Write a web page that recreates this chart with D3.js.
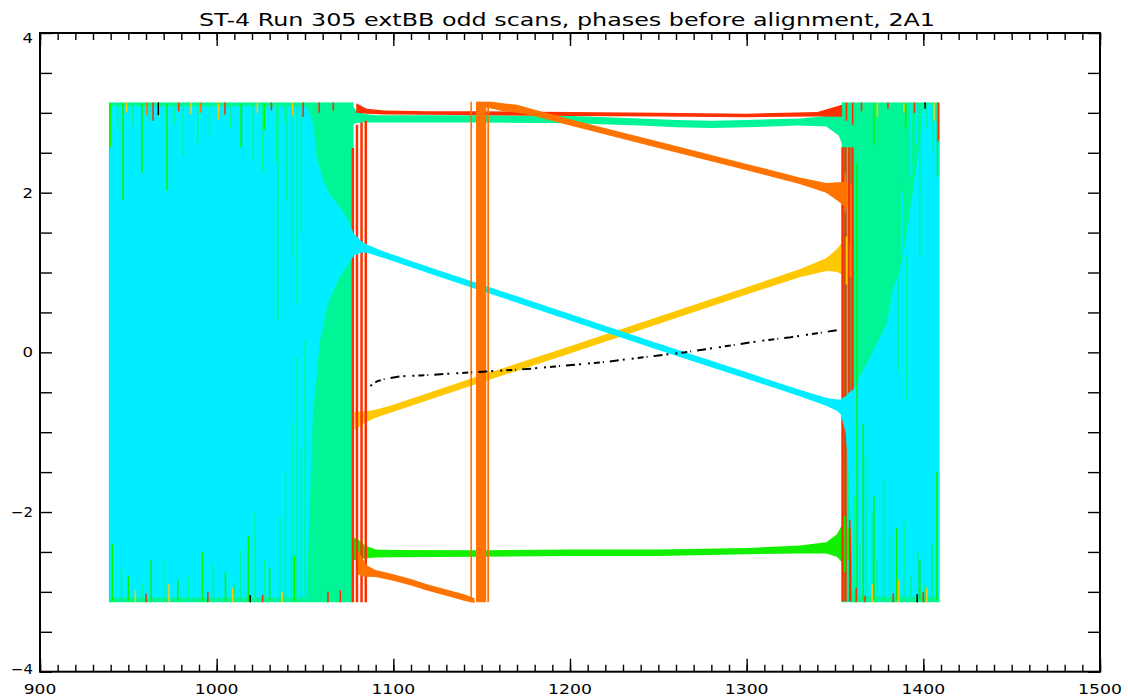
<!DOCTYPE html>
<html>
<head>
<meta charset="utf-8">
<script src="https://cdn.jsdelivr.net/npm/d3@7"></script>
<style>
  body { margin: 0; background: #fff; }
  #wrapper svg { display: block; }
  text { font-family: "DejaVu Sans", sans-serif; fill: #000; }
</style>
</head>
<body>
<div id="wrapper"></div>
<script>
const title = "ST-4 Run 305 extBB odd scans, phases before alignment, 2A1"
const xMajorTicks = [900, 1000, 1100, 1200, 1300, 1400, 1500]
const yMajorTicks = [-4, -2, 0, 2, 4]

// noisy (wrapped) blocks: spring-green fills them, cyan sits on top
const springBlockX0 = [939, 1353.8]
const springBlockX1 = [1077.5, 1409.2]
const blockTop = 3.13
const blockBottom = -3.13

const cyanLeftX = [939.5, 1051, 1052.5, 1054.5, 1056.8, 1058.5, 1060.2, 1062.5, 1064.2, 1069.8, 1075.5, 1078.3]
const cyanLeftHi = [3.08, 3.08, 3.0, 2.87, 2.41, 2.3, 2.16, 2.05, 1.97, 1.82, 1.6, 1.45]
const cyanLeftLo = [-3.07, -3.07, -2.0, -0.75, -0.25, 0.15, 0.32, 0.57, 0.68, 0.95, 1.14, 1.23]

const cyanRightX = [1353.5, 1356, 1358, 1360.2, 1369.8, 1379.4, 1382.8, 1388.5, 1394.2, 1398.1, 1399.8, 1409]
const cyanRightHi = [-0.58, -0.55, -0.5, -0.47, -0.06, 0.37, 0.78, 1.19, 2.03, 2.66, 3.1, 3.1]
const cyanRightLo = [-0.8, -1.0, -1.6, -3.06, -3.06, -3.06, -3.06, -3.06, -3.06, -3.06, -3.06, -3.06]

// clean part of each series (upper / lower edge of its noisy trace)
const cyanMidX = [1077, 1079, 1082, 1086, 1095, 1120, 1150, 1200, 1250, 1300, 1330, 1345, 1351, 1354]
const cyanMidHi = [1.49, 1.46, 1.39, 1.34, 1.26, 1.07, 0.85, 0.48, 0.11, -0.25, -0.47, -0.57, -0.59, -0.59]
const cyanMidLo = [1.23, 1.22, 1.25, 1.24, 1.18, 0.99, 0.77, 0.40, 0.03, -0.33, -0.55, -0.67, -0.73, -0.79]

const yellowMidX = [1078, 1080, 1084, 1090, 1100, 1150, 1200, 1250, 1300, 1330, 1345, 1351, 1355]
const yellowMidHi = [-0.75, -0.74, -0.74, -0.72, -0.655, -0.285, 0.075, 0.445, 0.815, 1.04, 1.18, 1.29, 1.40]
const yellowMidLo = [-0.97, -0.94, -0.88, -0.82, -0.745, -0.375, -0.015, 0.355, 0.725, 0.94, 1.02, 1.01, 0.96]

const greenMidX = [1077, 1080, 1084, 1090, 1100, 1150, 1200, 1250, 1300, 1330, 1345, 1351, 1356]
const greenMidHi = [-2.32, -2.34, -2.42, -2.47, -2.475, -2.48, -2.47, -2.47, -2.45, -2.42, -2.38, -2.28, -2.08]
const greenMidLo = [-2.60, -2.60, -2.58, -2.57, -2.565, -2.56, -2.55, -2.55, -2.53, -2.52, -2.52, -2.56, -2.68]

const springMidX = [1076, 1079, 1083, 1090, 1100, 1150, 1200, 1240, 1260, 1280, 1300, 1330, 1345, 1352, 1356]
const springMidHi = [3.12, 3.03, 2.99, 2.97, 2.97, 2.97, 2.96, 2.93, 2.91, 2.9, 2.91, 2.93, 2.96, 3.02, 3.1]
const springMidLo = [2.86, 2.87, 2.88, 2.88, 2.88, 2.88, 2.87, 2.84, 2.82, 2.81, 2.82, 2.84, 2.83, 2.72, 2.5]

const redMidX = [1079, 1085, 1095, 1120, 1150, 1200, 1250, 1300, 1340, 1354]
const redMidHi = [3.12, 3.05, 3.03, 3.02, 3.02, 3.01, 3.0, 2.99, 3.01, 3.1]
const redMidLo = [3.0, 2.99, 2.98, 2.975, 2.97, 2.96, 2.955, 2.945, 2.955, 2.95]

const orangeLowX = [1080, 1082, 1085, 1090, 1100, 1110, 1120, 1130, 1140, 1146]
const orangeLowHi = [-2.48, -2.56, -2.67, -2.725, -2.78, -2.84, -2.91, -2.97, -3.03, -3.08]
const orangeLowLo = [-2.78, -2.8, -2.81, -2.815, -2.86, -2.92, -2.99, -3.05, -3.11, -3.14]

const orangeHighX = [1152, 1156, 1162, 1170, 1178, 1200, 1250, 1300, 1330, 1345, 1352, 1357]
const orangeHighHi = [3.14, 3.14, 3.12, 3.1, 3.05, 2.92, 2.64, 2.36, 2.19, 2.12, 2.13, 2.14]
const orangeHighLo = [3.07, 3.05, 3.02, 3.0, 2.97, 2.84, 2.56, 2.28, 2.11, 2.0, 1.89, 1.80]

// orange wraps from -pi to +pi around 1150
const orangeBarX0 = [1143.6, 1146.8, 1153.2]
const orangeBarX1 = [1144.5, 1152.6, 1154.2]

// red wrap lines at both edges of the clean part
const redWrapX = [1077.1, 1079.4, 1082.0, 1084.4, 1354.3, 1355.9, 1358.1, 1359.9, 1358.6]
const redWrapHi = [2.56, 2.85, 2.88, 2.9, 2.57, 2.57, 2.57, 2.57, -2.1]
const redWrapLo = [-3.13, -3.13, -3.13, -3.13, -3.12, -3.12, -0.64, -0.64, -3.12]

// black trace: sparse points
const blackX = [1087, 1091, 1096, 1104, 1115, 1130, 1145, 1160, 1175, 1190, 1205, 1220, 1235, 1250, 1265, 1280, 1295, 1310, 1325, 1340, 1352]
const blackY = [-0.42, -0.36, -0.33, -0.30, -0.29, -0.27, -0.25, -0.23, -0.21, -0.18, -0.15, -0.12, -0.08, -0.04, 0.0, 0.05, 0.1, 0.15, 0.19, 0.24, 0.28]

// streaks [x, from, to] visible through the noisy blocks
const cyanStreaks = [[1393, 3.1, 2.2], [1396, 3.1, 2.6], [1388, 2.0, 1.2]]
const springStreaks = [
  [944, 3.12, 2.78], [952.6, 3.12, 2.83], [962, 3.12, 2.9], [976, 3.12, 2.85], [981, 3.12, 2.45],
  [989.4, 3.12, 2.62], [996, 3.12, 2.7], [1008, 3.12, 2.8], [1013.5, 3.12, 2.57], [1020.6, 3.12, 2.41],
  [1026, 3.12, 2.25], [1034, 3.12, 2.37], [1034.7, 3.12, 0.4], [1038.7, 3.12, 2.87], [1039.8, 3.12, 1.9],
  [1042.5, 3.12, 1.2], [1045.5, 3.12, 0.6], [1048, 3.12, 1.5],
  [946, -3.12, -2.7], [958, -3.12, -2.9], [970, -3.12, -2.6], [984, -3.12, -2.8], [998, -3.12, -2.65],
  [1010, -3.12, -2.9], [1013.5, -3.12, -2.48], [1021.7, -3.12, -2.01], [1027, -3.12, -2.6], [1035.8, -3.12, -2.06],
  [1039, -3.12, -1.5], [1042.6, -3.12, -0.89], [1045.5, -3.12, -0.06], [1048, -3.12, -1.2], [1050, -3.12, 0.15],
  [1361, -3.12, -1.8], [1364, -3.12, -2.4], [1367.5, -3.12, -1.3], [1371, -3.12, -2.0], [1374, -3.12, -2.6],
  [1377.5, -3.12, -1.6], [1381, -3.12, -2.3], [1385, -3.12, -2.7], [1389, -3.12, -2.1], [1393, -3.12, -2.8],
  [1397, -3.12, -2.5], [1401, -3.12, -2.9], [1405, -3.12, -2.4],
  [1385.6, 2.24, -0.26], [1390.7, 1.2, -0.6], [1398, 3.12, 1.19], [1402, 3.12, 2.8], [1405.5, 3.12, 2.5]
]
const greenStreaks = [
  [939.8, 3.12, 2.57], [947, 3.12, 1.91], [957.7, 3.12, 2.25], [971.9, 3.12, 2.03], [1014, 3.12, 2.57], [1027, 3.12, 2.79],
  [941, -3.12, -2.4], [950, -3.12, -2.8], [963, -3.12, -2.6], [978, -3.12, -2.85], [992, -3.12, -2.5],
  [1005, -3.12, -2.75], [1018, -3.12, -2.3], [1030, -3.12, -2.7], [1044, -3.12, -2.55],
  [1362.5, 2.37, -3.1], [1366, -0.9, -3.1], [1372, -1.8, -3.1], [1385, -2.2, -3.1], [1398, -2.6, -3.1], [1407.7, -1.5, -3.1],
  [1372, 3.12, 2.6], [1390, 3.12, 2.8], [1408, 3.12, 2.2], [1355.5, -2.05, -2.75], [1357.5, -2.2, -2.6]
]
const yellowStreaks = [
  [949, 3.13, 3.0], [967.5, 3.13, 2.95], [985.5, 3.13, 2.98], [1001, 3.13, 2.92], [1023, 3.13, 3.0], [1043, 3.13, 2.97],
  [954, -3.13, -2.98], [973, -3.13, -2.9], [1009, -3.13, -2.95], [1037, -3.13, -3.0],
  [1356.5, 1.45, 0.85], [1358.8, 1.35, 0.95], [1374, 3.13, 2.95], [1389, 3.13, 3.0], [1406, 3.13, 2.9],
  [1371, -3.13, -2.9], [1386, -3.13, -2.85], [1402, -3.13, -2.95]
]
const redStreaks = [
  [964, 3.13, 2.9], [978.5, 3.13, 3.02], [1004.7, 3.13, 2.98], [1031, 3.13, 3.03], [1049, 3.13, 2.95],
  [1058, 3.13, 3.0], [1066, 3.13, 3.03],
  [960, -3.13, -3.02], [995, -3.13, -3.0], [1026, -3.13, -3.04], [1063, -3.13, -3.0], [1070, -3.13, -2.98],
  [1356.5, 3.13, 2.9], [1360, 3.13, 2.85], [1365, 3.13, 3.02], [1380, 3.13, 3.05], [1395, 3.13, 3.0], [1408.5, 3.13, 2.65],
  [1362, -3.13, -2.95], [1367, -3.13, -3.05], [1383, -3.13, -3.02], [1400, -3.13, -3.0]
]
const orangeStreaks = [[960.5, 3.13, 2.97], [991, 3.13, 3.0], [1359, 2.12, 0.94], [1355.8, 2.25, 1.75]]
const blackStreaks = [[967, 3.13, 2.97], [1019, -3.13, -3.04], [1396.5, -3.13, -3.03], [1401, 3.13, 3.05]]

function drawChart() {
    const colors = {
        red: "#ff3000",
        orange: "#ff7300",
        yellow: "#ffc800",
        green: "#10f000",
        spring: "#00f596",
        cyan: "#00eeff",
        black: "#000000",
    }

    let dimensions = {
        width: 1128,
        height: 696,
        margin: {
            top: 33,
            right: 28,
            bottom: 24.3,
            left: 40,
        },
    }
    dimensions.boundedWidth = dimensions.width
        - dimensions.margin.left
        - dimensions.margin.right
    dimensions.boundedHeight = dimensions.height
        - dimensions.margin.top
        - dimensions.margin.bottom

    const wrapper = d3.select("#wrapper")
        .append("svg")
        .attr("width", dimensions.width)
        .attr("height", dimensions.height)

    const bounds = wrapper.append("g")
        .style("transform", `translate(${dimensions.margin.left}px,${dimensions.margin.top}px)`)

    const xScaler = d3.scaleLinear()
        .domain([900, 1500])
        .range([0, dimensions.boundedWidth])
    const yScaler = d3.scaleLinear()
        .domain([-4, 4])
        .range([dimensions.boundedHeight, 0])

    const areaGen = d3.area()
        .x(d => xScaler(d[0]))
        .y0(d => yScaler(d[2]))
        .y1(d => yScaler(d[1]))

    const drawBand = (xs, his, los, color) => {
        bounds.append("path")
            .datum(d3.zip(xs, his, los))
            .attr("d", areaGen)
            .attr("fill", color)
    }

    const drawStreaks = (data, color, width) => {
        bounds.append("g")
            .selectAll("line")
            .data(data)
            .join("line")
            .attr("x1", d => xScaler(d[0]))
            .attr("x2", d => xScaler(d[0]))
            .attr("y1", d => yScaler(d[1]))
            .attr("y2", d => yScaler(d[2]))
            .attr("stroke", color)
            .attr("stroke-width", width)
    }

    // series, in plotting order
    drawBand(yellowMidX, yellowMidHi, yellowMidLo, colors.yellow)
    drawBand(greenMidX, greenMidHi, greenMidLo, colors.green)

    bounds.append("g")
        .selectAll("rect")
        .data(d3.zip(springBlockX0, springBlockX1))
        .join("rect")
        .attr("x", d => xScaler(d[0]))
        .attr("width", d => xScaler(d[1]) - xScaler(d[0]))
        .attr("y", yScaler(blockTop))
        .attr("height", yScaler(blockBottom) - yScaler(blockTop))
        .attr("fill", colors.spring)
    drawBand(springMidX, springMidHi, springMidLo, colors.spring)

    drawBand(redMidX, redMidHi, redMidLo, colors.red)
    drawStreaks(d3.zip(redWrapX, redWrapHi, redWrapLo), colors.red, 2.5)

    drawBand(cyanLeftX, cyanLeftHi, cyanLeftLo, colors.cyan)
    drawBand(cyanRightX, cyanRightHi, cyanRightLo, colors.cyan)
    drawBand(cyanMidX, cyanMidHi, cyanMidLo, colors.cyan)

    drawBand(orangeLowX, orangeLowHi, orangeLowLo, colors.orange)
    drawBand(orangeHighX, orangeHighHi, orangeHighLo, colors.orange)
    bounds.append("g")
        .selectAll("rect")
        .data(d3.zip(orangeBarX0, orangeBarX1))
        .join("rect")
        .attr("x", d => xScaler(d[0]))
        .attr("width", d => xScaler(d[1]) - xScaler(d[0]))
        .attr("y", yScaler(3.14))
        .attr("height", yScaler(-3.13) - yScaler(3.14))
        .attr("fill", colors.orange)

    // streaks showing through the noisy blocks
    drawStreaks(cyanStreaks, colors.cyan, 1.6)
    drawStreaks(springStreaks, colors.spring, 1.6)
    drawStreaks(greenStreaks, colors.green, 1.6)
    drawStreaks(yellowStreaks, colors.yellow, 1.6)
    drawStreaks(redStreaks, colors.red, 1.6)
    drawStreaks(orangeStreaks, colors.orange, 1.6)
    drawStreaks(blackStreaks, colors.black, 1.6)

    const lineGen = d3.line()
        .x(d => xScaler(d[0]))
        .y(d => yScaler(d[1]))
    bounds.append("path")
        .datum(d3.zip(blackX, blackY))
        .attr("d", lineGen)
        .attr("fill", "none")
        .attr("stroke", colors.black)
        .attr("stroke-width", 2)
        .attr("stroke-dasharray", "2,4,6,3,1,6,9,4,2,7")

    // axes: ticks on all four sides, pointing inwards
    const xMinor = d3.range(900, 1501, 10)
    const yMinor = d3.range(-4, 4.01, 0.5)
    const tickStyle = g => {
        g.select(".domain").remove()
        g.selectAll("line").attr("stroke", "#000").attr("stroke-width", 1.4)
        g.selectAll("text").remove()
    }

    bounds.append("g")
        .attr("transform", `translate(0,${dimensions.boundedHeight})`)
        .call(d3.axisBottom(xScaler).tickValues(xMinor).tickSize(-7))
        .call(tickStyle)
    bounds.append("g")
        .attr("transform", `translate(0,${dimensions.boundedHeight})`)
        .call(d3.axisBottom(xScaler).tickValues(xMajorTicks).tickSize(-13))
        .call(tickStyle)
    bounds.append("g")
        .call(d3.axisTop(xScaler).tickValues(xMinor).tickSize(-7))
        .call(tickStyle)
    bounds.append("g")
        .call(d3.axisTop(xScaler).tickValues(xMajorTicks).tickSize(-13))
        .call(tickStyle)
    bounds.append("g")
        .call(d3.axisLeft(yScaler).tickValues(yMinor).tickSize(-12))
        .call(tickStyle)
    bounds.append("g")
        .attr("transform", `translate(${dimensions.boundedWidth},0)`)
        .call(d3.axisRight(yScaler).tickValues(yMinor).tickSize(-12))
        .call(tickStyle)

    bounds.append("rect")
        .attr("width", dimensions.boundedWidth)
        .attr("height", dimensions.boundedHeight)
        .attr("fill", "none")
        .attr("stroke", "#000")
        .attr("stroke-width", 2)

    const fmt = d3.format("d")
    bounds.append("g")
        .selectAll("text")
        .data(xMajorTicks)
        .join("text")
        .attr("x", d => xScaler(d))
        .attr("y", dimensions.boundedHeight + 22)
        .attr("text-anchor", "middle")
        .attr("font-size", 14)
        .attr("textLength", d => fmt(d).length * 11.2 - 1)
        .attr("lengthAdjust", "spacingAndGlyphs")
        .text(fmt)

    bounds.append("g")
        .selectAll("text")
        .data(yMajorTicks)
        .join("text")
        .attr("x", -7)
        .attr("y", d => yScaler(d) + 5 + (d === 4 ? 5 : 0) - (d === -4 ? 3 : 0))
        .attr("text-anchor", "end")
        .attr("font-size", 14)
        .attr("textLength", d => fmt(d).length * 11.5 - 1)
        .attr("lengthAdjust", "spacingAndGlyphs")
        .text(fmt)

    wrapper.append("text")
        .attr("x", 199)
        .attr("y", 26)
        .attr("font-size", 17)
        .attr("textLength", 736)
        .attr("lengthAdjust", "spacingAndGlyphs")
        .text(title)
}

drawChart()
</script>
</body>
</html>
